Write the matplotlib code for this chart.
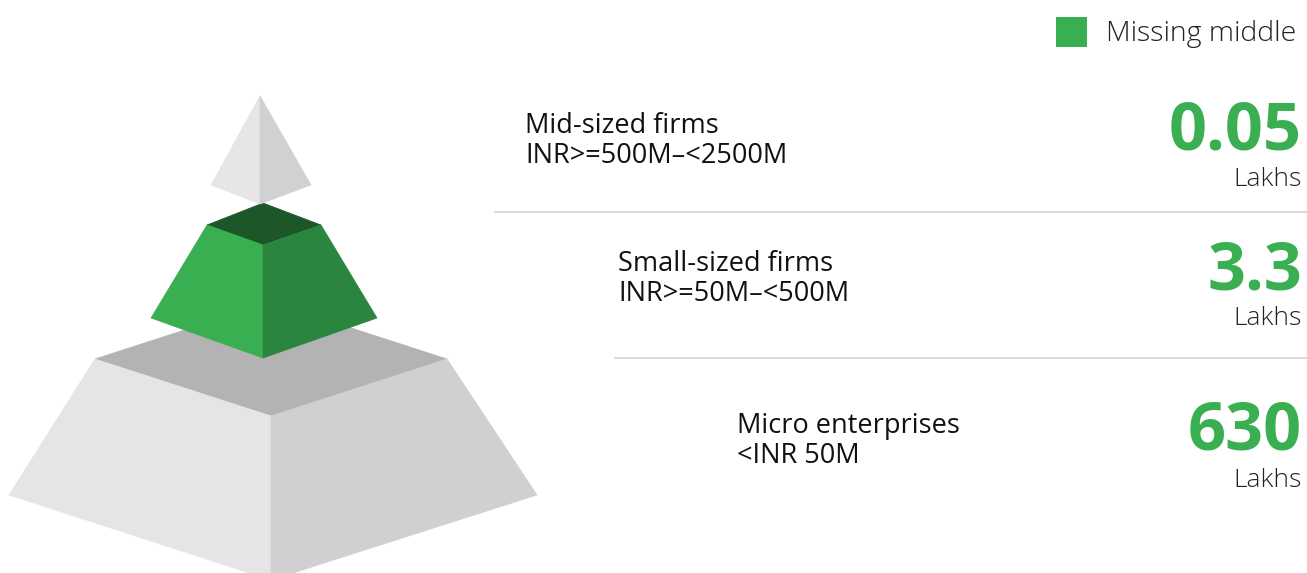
import matplotlib
matplotlib.use("Agg")
import matplotlib.pyplot as plt
from matplotlib.patches import Polygon, Rectangle

# ---- data ----
categories = ["Mid-sized firms", "Small-sized firms", "Micro enterprises"]
ranges = ["INR>=500M–<2500M", "INR>=50M–<500M", "<INR 50M"]
values = ["0.05", "3.3", "630"]
unit = "Lakhs"
legend_label = "Missing middle"

GREEN = "#3aaf52"
FONT = "Open Sans"

W, H = 1307, 573
fig = plt.figure(figsize=(W / 100, H / 100), dpi=100)
ax = fig.add_axes([0, 0, 1, 1])
ax.set_xlim(0, W)
ax.set_ylim(H, 0)
ax.axis("off")

def poly(pts, color):
    ax.add_patch(Polygon(pts, closed=True, facecolor=color, edgecolor=color, lw=0.5))

# bottom tier (micro)
poly([(271, 302), (95, 359), (271, 416), (447, 359)], "#b3b3b3")
poly([(95, 359), (271, 416), (271, 580), (9, 495)], "#e5e5e5")
poly([(271, 416), (447, 359), (537, 495), (271, 580)], "#d0d0d0")

# middle tier (small, missing middle)
poly([(263, 203), (207, 225), (263, 245), (321, 225)], "#1d5628")
poly([(207, 225), (263, 245), (263, 358), (151, 318)], GREEN)
poly([(263, 245), (321, 225), (377, 318), (263, 358)], "#2a853f")

# top tier (mid-sized)
poly([(260, 96), (211, 185), (260, 204)], "#e6e6e6")
poly([(260, 96), (260, 204), (311, 185)], "#d1d1d1")

# separators
ax.plot([495, W], [212, 212], color="#d4d4d4", lw=1.2)
ax.plot([615, W], [358, 358], color="#d4d4d4", lw=1.2)

# labels
label_x = [525, 618, 737]
label_y = [126, 264, 426]
value_baseline = [150, 290, 450]
lakh_baseline = [186, 325, 487]
for i in range(3):
    ax.text(label_x[i], label_y[i], categories[i], fontsize=19.5, family=FONT,
            color="#111111", va="center", ha="left")
    ax.text(label_x[i], label_y[i] + 30, ranges[i], fontsize=19.5, family=FONT,
            color="#111111", va="center", ha="left")
    ax.text(1302, value_baseline[i], values[i], fontsize=48, family=FONT, weight="bold",
            color=GREEN, va="baseline", ha="right")
    ax.text(1302, lakh_baseline[i], unit, fontsize=19, family=FONT, weight="light",
            color="#222222", va="baseline", ha="right")

# legend
ax.add_patch(Rectangle((1056, 17), 31, 30, facecolor=GREEN, edgecolor="none"))
ax.text(1106, 34, legend_label, fontsize=20.5, family=FONT, weight="light",
        color="#222222", va="center", ha="left")

fig.savefig("out.png", dpi=100)
